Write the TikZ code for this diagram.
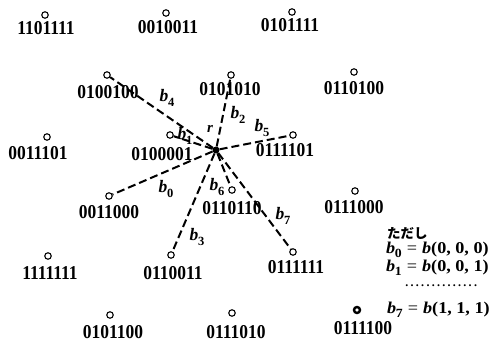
\documentclass[tikz,border=0pt]{standalone}
\usepackage{graphicx}
\usepackage{fontspec}
\setmainfont{Liberation Serif}
\newfontfamily\jpfont{Noto Sans CJK JP}
\newcommand\bsub[1]{\textbf{\textit{b}}\kern-0.3pt\raisebox{-0.25em}{\fontsize{12.5}{12}\selectfont\bfseries #1}}
\newcommand\cd[1]{\scalebox{1}[1.12]{#1}}
\newcommand\lgd[2]{\scalebox{1.1}[1]{\bsub{#1}\;=\;\textbf{\textit{b}}\textbf{(#2)}}}
\begin{document}
\begin{tikzpicture}[x=1pt,y=-1pt,
  pt/.style={circle,draw,line width=1.1pt,inner sep=0pt,minimum size=6.5pt},
  code/.style={font=\fontsize{17.5}{18}\selectfont\bfseries,inner sep=0pt},
  bl/.style={font=\fontsize{17.5}{18}\selectfont,inner sep=0pt},
  lgs/.style={font=\fontsize{16.5}{17}\selectfont,inner sep=0pt,anchor=west},
  dl/.style={line width=2pt,dash pattern=on 8pt off 4pt}]
\useasboundingbox (0,0) rectangle (493,345);
% centre
\node[circle,fill,inner sep=0pt,minimum size=7pt] (c) at (216,150) {};
% points
\node[pt] (p1) at (45,15) {};   \node[code] (t1) at (46,28) {\cd{1101111}};
\node[pt] (p2) at (166,13) {};  \node[code] (t2) at (168,27) {\cd{0010011}};
\node[pt] (p3) at (292,12) {};  \node[code] (t3) at (290,25) {\cd{0101111}};
\node[pt] (p4) at (107,75) {};  \node[code] (t4) at (108,92) {\cd{0100100}};
\node[pt] (p5) at (231,75) {};  \node[code] (t5) at (230,89) {\cd{0101010}};
\node[pt] (p6) at (354,72) {};  \node[code] (t6) at (354,88) {\cd{0110100}};
\node[pt] (p7) at (47,137) {};  \node[code] (t7) at (38,153) {\cd{0011101}};
\node[pt] (p8) at (170,135) {}; \node[code] (t8) at (162,154) {\cd{0100001}};
\node[pt] (p9) at (293,135) {}; \node[code] (t9) at (285,150) {\cd{0111101}};
\node[pt] (p10) at (109,196) {};\node[code] (t10) at (109,212) {\cd{0011000}};
\node[pt] (p11) at (232,190) {};\node[code] (t11) at (232,208) {\cd{0110110}};
\node[pt] (p12) at (355,191) {};\node[code] (t12) at (354,207) {\cd{0111000}};
\node[pt] (p13) at (48,256) {}; \node[code] (t13) at (50,273) {\cd{1111111}};
\node[pt] (p14) at (171,255) {};\node[code] (t14) at (173,273) {\cd{0110011}};
\node[pt] (p15) at (293,252) {};\node[code] (t15) at (296,267) {\cd{0111111}};
\node[pt] (p16) at (110,315) {};\node[code] (t16) at (113,332) {\cd{0101100}};
\node[pt] (p17) at (232,313) {};\node[code] (t17) at (236,332) {\cd{0111010}};
\node[pt,line width=2.4pt,minimum size=6pt] (p18) at (357,310) {};
\node[code] (t18) at (363,328) {\cd{0111100}};
% dashed branches
\draw[dl] (c) -- (p10);
\draw[dl] (c) -- (p8);
\draw[dl] (c) -- (p5);
\draw[dl] (c) -- (p14);
\draw[dl] (c) -- (p4);
\draw[dl] (c) -- (p9);
\draw[dl] (c) -- (p11);
\draw[dl] (c) -- (p15);
% branch labels
\node[bl] (l0) at (166,189) {\bsub{0}};
\node[bl] (l1) at (185,136) {\bsub{1}};
\node[bl] (l2) at (238,115) {\bsub{2}};
\node[bl] (l3) at (197,237) {\bsub{3}};
\node[bl] (l4) at (167,98) {\bsub{4}};
\node[bl] (l5) at (262,128) {\bsub{5}};
\node[bl] (l6) at (217,187) {\bsub{6}};
\node[bl] (l7) at (283,216) {\bsub{7}};
\node[bl,font=\fontsize{15}{16}\selectfont\bfseries\itshape] (r) at (210,129) {r};
% legend
\node[inner sep=0pt,anchor=west,font=\jpfont\bfseries\fontsize{13.5}{14}\selectfont] (lg0) at (387,233) {ただし};
\node[lgs] (lg1) at (386,250) {\lgd{0}{0, 0, 0}};
\node[lgs] (lg2) at (386,268) {\lgd{1}{0, 0, 1}};
\node[inner sep=0pt,anchor=west,font=\fontsize{12}{12}\selectfont\bfseries] (lg3) at (404,286) {\makebox[74pt]{\dotfill}};
\node[lgs] (lg4) at (387,310) {\lgd{7}{1, 1, 1}};
\end{tikzpicture}
\end{document}
